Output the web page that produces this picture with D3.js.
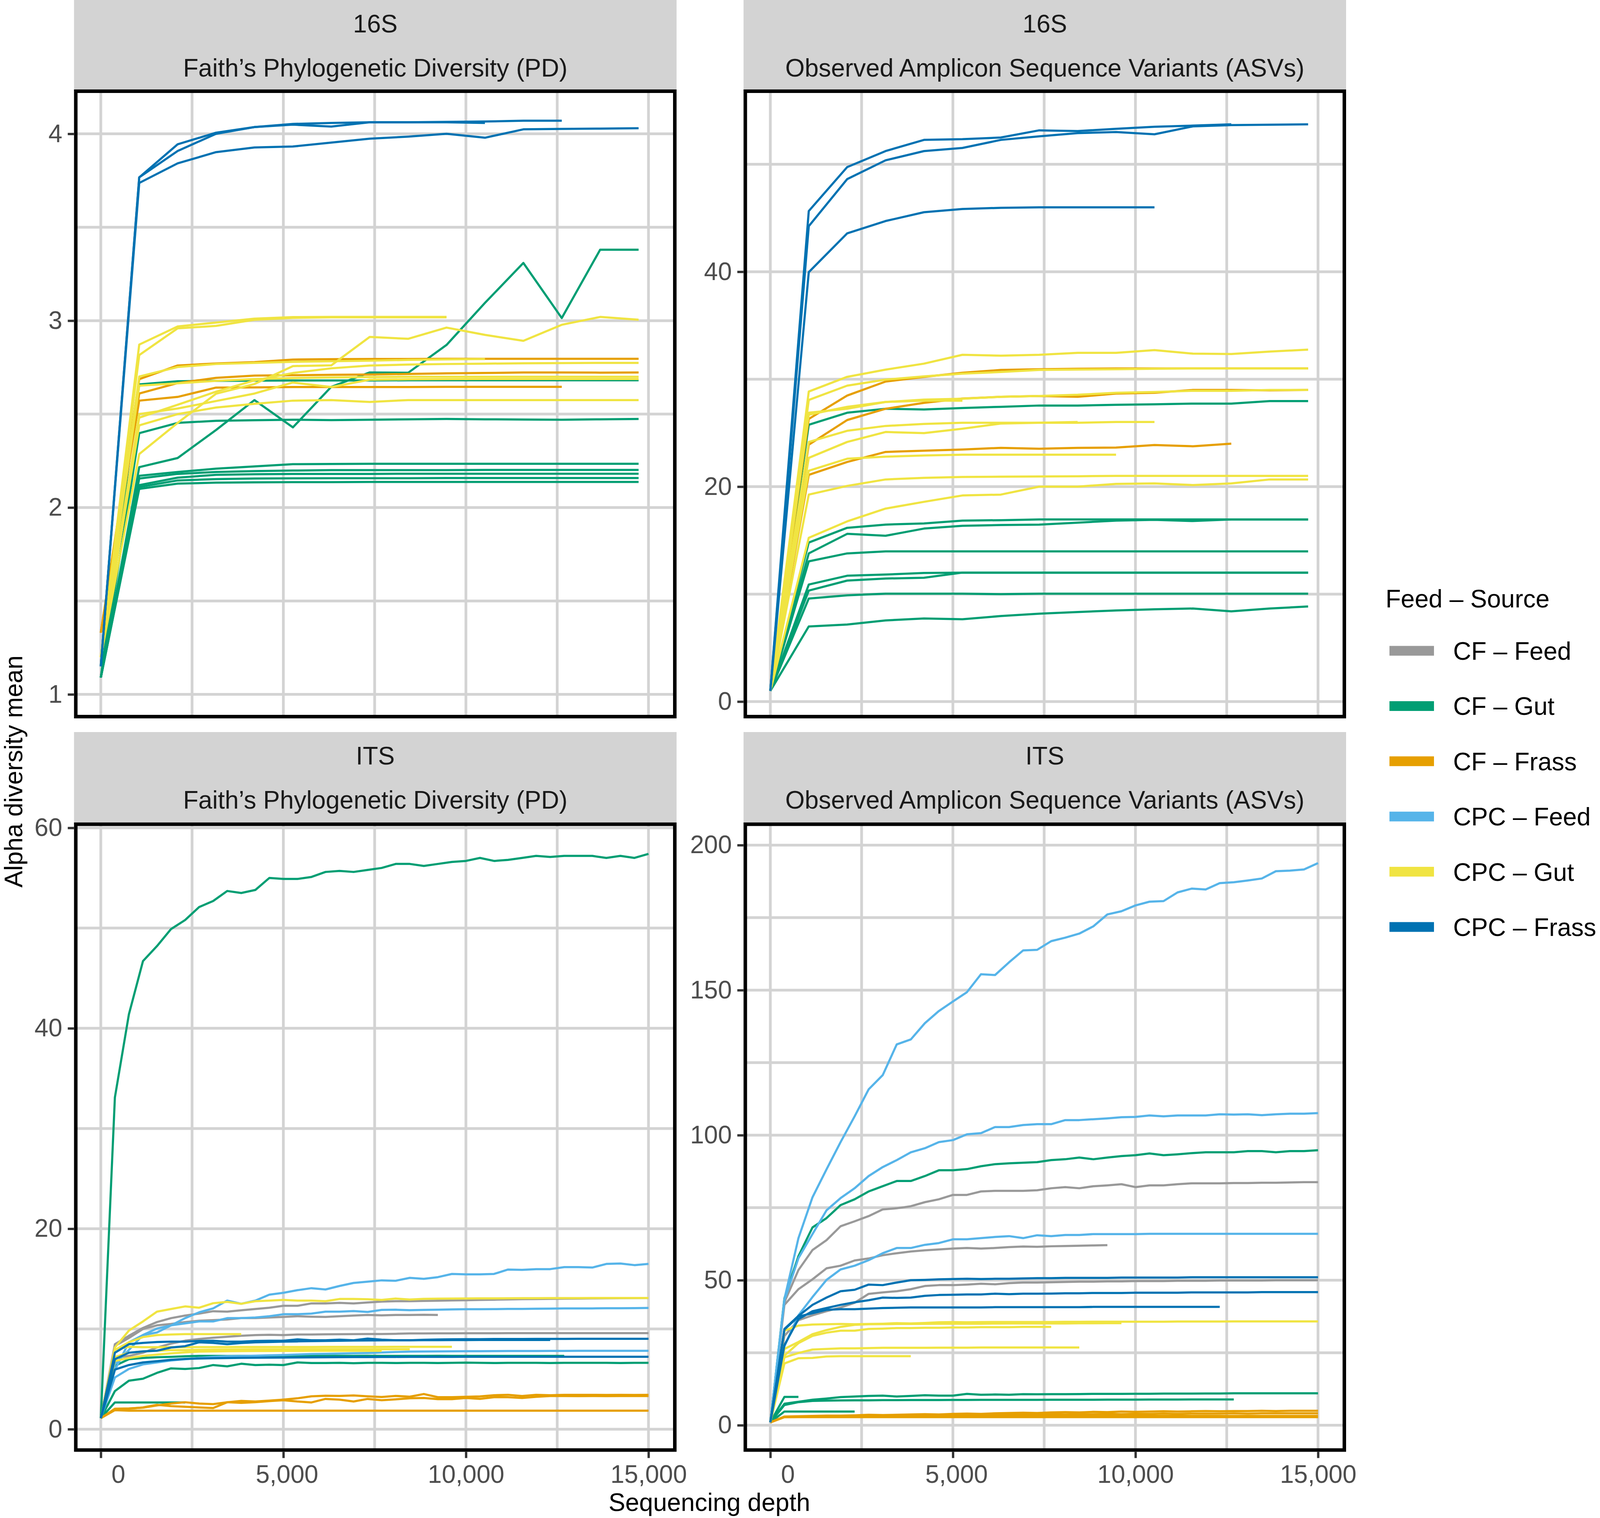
<!DOCTYPE html>
<html>
<head>
<meta charset="utf-8">
<script src="https://cdn.jsdelivr.net/npm/d3@7"></script>
<style>
  body { margin: 0; background: #ffffff; }
  text { font-family: "Liberation Sans", Arial, Helvetica, sans-serif; }
</style>
</head>
<body>
<svg id="chart" width="4127" height="3886" xmlns="http://www.w3.org/2000/svg"></svg>
<script>
// ---------------- DATA ----------------
const groups = ["CF – Feed", "CF – Gut", "CF – Frass", "CPC – Feed", "CPC – Gut", "CPC – Frass"];
const groupColors = ["#999999", "#009E73", "#E69F00", "#56B4E9", "#F0E442", "#0072B2"];

const legendTitle = "Feed – Source";
const xTitle = "Sequencing depth";
const yTitle = "Alpha diversity mean";

const depths16S = [1, 1053, 2105, 3157, 4209, 5261, 6313, 7365, 8417, 9469, 10521, 11573, 12625, 13677, 14729];
const depthsITS = [1, 386, 770, 1155, 1539, 1924, 2309, 2693, 3078, 3462,
                   3847, 4232, 4616, 5001, 5385, 5770, 6154, 6539, 6924, 7308,
                   7693, 8077, 8462, 8847, 9231, 9616, 10000, 10385, 10770, 11154,
                   11539, 11923, 12308, 12693, 13077, 13462, 13846, 14231, 14616, 15000];

const xTickValues = [0, 5000, 10000, 15000];
const xTickLabels = ["\u00a0\u00a0\u00a0\u00a0\u00a00", "\u00a05,000", "10,000", "15,000"];
const xMinorValues = [2500, 7500, 12500];
const xLimits = [-685, 15721];

const stripTop = ["16S", "16S", "ITS", "ITS"];
const stripBottom = ["Faith’s Phylogenetic Diversity (PD)", "Observed Amplicon Sequence Variants (ASVs)",
                     "Faith’s Phylogenetic Diversity (PD)", "Observed Amplicon Sequence Variants (ASVs)"];

const yTicksPD16S = [1, 2, 3, 4];        const yMinorPD16S = [1.5, 2.5, 3.5];     const yLimitsPD16S = [0.881, 4.228];
const yTicksASV16S = [0, 20, 40];        const yMinorASV16S = [10, 30, 50];       const yLimitsASV16S = [-1.40, 56.80];
const yTicksPDITS = [0, 20, 40, 60];     const yMinorPDITS = [10, 30, 50];        const yLimitsPDITS = [-2.08, 60.36];
const yTicksASVITS = [0, 50, 100, 150, 200]; const yMinorASVITS = [25, 75, 125, 175]; const yLimitsASVITS = [-8.55, 207.2];

// 16S Faith's PD
const seriesPD16S = [
  ["CF – Gut", [1.09, 2.216, 2.265, 2.415, 2.575, 2.429, 2.646, 2.723, 2.721, 2.87, 3.095, 3.309, 3.014, 3.38, 3.38]],
  ["CF – Gut", [1.09, 2.398, 2.453, 2.464, 2.467, 2.47, 2.468, 2.47, 2.472, 2.474, 2.472, 2.471, 2.47, 2.472, 2.474]],
  ["CF – Gut", [1.09, 2.659, 2.676, 2.678, 2.679, 2.68, 2.68, 2.68, 2.681, 2.681, 2.681, 2.681, 2.681, 2.681, 2.681]],
  ["CF – Gut", [1.09, 2.17, 2.19, 2.208, 2.22, 2.232, 2.233, 2.234, 2.234, 2.234, 2.234, 2.234, 2.234, 2.234, 2.234]],
  ["CF – Gut", [1.09, 2.155, 2.18, 2.19, 2.195, 2.198, 2.2, 2.2, 2.2, 2.2, 2.201, 2.201, 2.201, 2.201, 2.201]],
  ["CF – Gut", [1.09, 2.12, 2.16, 2.175, 2.178, 2.18, 2.18, 2.18, 2.181, 2.181, 2.181, 2.181, 2.181, 2.181, 2.181]],
  ["CF – Gut", [1.09, 2.11, 2.145, 2.152, 2.155, 2.156, 2.157, 2.157, 2.157, 2.158, 2.158, 2.158, 2.158, 2.158, 2.158]],
  ["CF – Gut", [1.09, 2.10, 2.128, 2.133, 2.135, 2.136, 2.136, 2.137, 2.137, 2.137, 2.137, 2.137, 2.137, 2.137, 2.137]],
  ["CF – Frass", [1.33, 2.687, 2.76, 2.771, 2.778, 2.792, 2.794, 2.795, 2.795, 2.796, 2.796, 2.796, 2.796, 2.796, 2.796]],
  ["CF – Frass", [1.33, 2.61, 2.666, 2.694, 2.706, 2.708, 2.71, 2.712, 2.715, 2.718, 2.72, 2.723, 2.723, 2.722, 2.723]],
  ["CF – Frass", [1.33, 2.572, 2.592, 2.642, 2.643, 2.645, 2.645, 2.645, 2.645, 2.646, 2.646, 2.646, 2.646]],
  ["CPC – Gut", [1.2, 2.872, 2.969, 2.99, 3.011, 3.019, 3.02, 3.02, 3.02, 3.02]],
  ["CPC – Gut", [1.2, 2.816, 2.959, 2.972, 3.005, 3.015, 3.018, 3.018, 3.018, 3.018]],
  ["CPC – Gut", [1.2, 2.701, 2.752, 2.768, 2.774, 2.78, 2.783, 2.786, 2.79, 2.793, 2.795]],
  ["CPC – Gut", [1.2, 2.481, 2.55, 2.62, 2.68, 2.72, 2.745, 2.76, 2.765, 2.768, 2.77, 2.772, 2.773, 2.774, 2.774]],
  ["CPC – Gut", [1.2, 2.652, 2.665, 2.678, 2.688, 2.693, 2.696, 2.698, 2.7, 2.7, 2.7, 2.7, 2.7, 2.7, 2.7]],
  ["CPC – Gut", [1.2, 2.44, 2.5, 2.535, 2.555, 2.572, 2.575, 2.565, 2.575, 2.575, 2.575, 2.575, 2.575, 2.575, 2.575]],
  ["CPC – Gut", [1.2, 2.5, 2.53, 2.57, 2.61, 2.669, 2.645, 2.684, 2.686, 2.687, 2.688, 2.688, 2.688, 2.688, 2.688]],
  ["CPC – Gut", [1.2, 2.286, 2.453, 2.609, 2.661, 2.757, 2.761, 2.913, 2.903, 2.963, 2.924, 2.892, 2.978, 3.02, 3.005]],
  ["CPC – Frass", [1.15, 3.767, 3.944, 4.006, 4.036, 4.053, 4.058, 4.062, 4.062, 4.064, 4.066, 4.07, 4.07]],
  ["CPC – Frass", [1.15, 3.767, 3.908, 4.0, 4.036, 4.049, 4.039, 4.062, 4.062, 4.062, 4.058]],
  ["CPC – Frass", [1.15, 3.737, 3.842, 3.902, 3.927, 3.932, 3.953, 3.974, 3.985, 4.0, 3.979, 4.024, 4.026, 4.028, 4.03]]
];

// 16S Observed ASVs
const seriesASV16S = [
  ["CF – Gut", [1, 25.76, 26.88, 27.25, 27.18, 27.32, 27.43, 27.55, 27.55, 27.62, 27.66, 27.73, 27.73, 27.96, 27.96]],
  ["CF – Gut", [1, 14.8, 16.17, 16.47, 16.58, 16.84, 16.88, 16.95, 16.95, 16.95, 16.95, 16.95, 16.95, 16.95, 16.95]],
  ["CF – Gut", [1, 13.79, 15.61, 15.43, 16.1, 16.36, 16.43, 16.47, 16.65, 16.84, 16.91, 16.8, 16.95, 16.95, 16.95]],
  ["CF – Gut", [1, 13.05, 13.79, 13.98, 13.98, 13.98, 13.98, 13.98, 13.98, 13.98, 13.98, 13.98, 13.98, 13.98, 13.98]],
  ["CF – Gut", [1, 10.89, 11.71, 11.82, 11.97, 12.0, 12.0, 12.0, 12.0, 12.0, 12.0, 12.0, 12.0, 12.0, 12.0]],
  ["CF – Gut", [1, 10.33, 11.26, 11.45, 11.52, 12.0, 12.0, 12.0, 12.0, 12.0, 12.0, 12.0, 12.0, 12.0, 12.0]],
  ["CF – Gut", [1, 9.59, 9.89, 10.04, 10.04, 10.04, 10.0, 10.04, 10.04, 10.04, 10.04, 10.04, 10.04, 10.04, 10.04]],
  ["CF – Gut", [1, 6.99, 7.17, 7.55, 7.73, 7.66, 7.96, 8.18, 8.33, 8.48, 8.59, 8.66, 8.4, 8.66, 8.85]],
  ["CF – Frass", [1, 26.3, 28.48, 29.78, 30.22, 30.6, 30.86, 30.93, 30.97, 31.0, 31.0, 31.0, 31.0, 31.0, 31.0]],
  ["CF – Frass", [1, 23.9, 26.2, 27.25, 27.8, 28.2, 28.36, 28.44, 28.36, 28.66, 28.74, 29.0, 29.0, 28.96, 29.0]],
  ["CF – Frass", [1, 21.1, 22.3, 23.23, 23.35, 23.46, 23.61, 23.53, 23.61, 23.64, 23.87, 23.76, 24.0]],
  ["CPC – Gut", [1, 28.85, 30.22, 30.89, 31.45, 32.27, 32.19, 32.27, 32.45, 32.45, 32.71, 32.38, 32.34, 32.57, 32.75]],
  ["CPC – Gut", [1, 28.07, 29.4, 29.96, 30.26, 30.52, 30.67, 30.86, 30.9, 30.93, 30.97, 31.0, 31.0, 31.0, 31.0]],
  ["CPC – Gut", [1, 26.7, 27.43, 27.88, 28.1, 28.18, 28.36, 28.44, 28.55, 28.74, 28.81, 28.92, 28.92, 29.0, 29.0]],
  ["CPC – Gut", [1, 26.88, 27.25, 27.88, 28.0, 28.0]],
  ["CPC – Gut", [1, 24.16, 25.2, 25.65, 25.84, 25.95, 25.95, 25.95, 25.95, 26.02, 26.02]],
  ["CPC – Gut", [1, 22.68, 24.16, 25.09, 24.98, 25.39, 25.87, 25.95, 26.02]],
  ["CPC – Gut", [1, 21.48, 22.6, 22.79, 22.9, 22.97, 22.97, 22.97, 22.97, 22.97]],
  ["CPC – Gut", [1, 19.26, 20.07, 20.67, 20.82, 20.9, 20.93, 20.95, 20.97, 21.0, 21.0, 21.0, 21.0, 21.0, 21.0]],
  ["CPC – Gut", [1, 15.24, 16.77, 17.96, 18.59, 19.18, 19.26, 20.0, 20.0, 20.26, 20.3, 20.15, 20.3, 20.67, 20.67]],
  ["CPC – Frass", [1, 45.65, 49.74, 51.23, 52.27, 52.34, 52.49, 53.16, 53.09, 53.3, 53.49, 53.6, 53.72]],
  ["CPC – Frass", [1, 44.24, 48.62, 50.37, 51.23, 51.52, 52.27, 52.6, 52.9, 53.0, 52.79, 53.53, 53.65, 53.68, 53.72]],
  ["CPC – Frass", [1, 39.96, 43.57, 44.72, 45.54, 45.84, 45.95, 45.99, 45.99, 45.99, 45.99]]
];

// ITS Faith's PD
const seriesPDITS = [
  ["CF – Feed", [1.1, 8.48, 9.32, 10.1, 10.69, 11.08, 11.34, 11.53, 11.77, 11.73,
                 11.86, 11.99, 12.12, 12.31, 12.31, 12.55, 12.55, 12.6, 12.55, 12.64,
                 12.73, 12.77, 12.77, 12.8, 12.82, 12.85, 12.87, 12.9, 12.92, 12.95,
                 12.97, 12.98, 13.0, 13.02, 13.03, 13.05, 13.06, 13.07, 13.08, 13.09]],
  ["CF – Feed", [1.1, 8.3, 9.1, 10.0, 10.36, 10.5, 10.69, 10.82, 10.88, 10.95,
                 11.08, 11.08, 11.14, 11.2, 11.27, 11.22, 11.2, 11.27, 11.34, 11.4,
                 11.36, 11.4, 11.4, 11.42, 11.4]],
  ["CF – Feed", [1.1, 7.1, 7.31, 7.63, 8.15, 8.54, 8.83, 9.0, 9.13, 9.22,
                 9.32, 9.39, 9.42, 9.39, 9.45, 9.45, 9.47, 9.48, 9.49, 9.5,
                 9.5, 9.52, 9.55, 9.55, 9.56, 9.56, 9.57, 9.57, 9.57, 9.58,
                 9.58, 9.58, 9.58, 9.58, 9.58, 9.58, 9.58, 9.58, 9.58, 9.58]],
  ["CF – Gut", [1.1, 33.1, 41.4, 46.7, 48.2, 49.9, 50.8, 52.1, 52.7, 53.7,
                53.5, 53.8, 55.0, 54.9, 54.9, 55.1, 55.6, 55.7, 55.6, 55.8,
                56.0, 56.4, 56.4, 56.2, 56.4, 56.6, 56.7, 57.0, 56.7, 56.8,
                57.0, 57.2, 57.1, 57.2, 57.2, 57.2, 57.0, 57.2, 57.0, 57.4]],
  ["CF – Gut", [1.1, 3.8, 4.84, 5.03, 5.62, 6.07, 6.01, 6.1, 6.4, 6.27,
                6.53, 6.4, 6.44, 6.4, 6.66, 6.6, 6.6, 6.62, 6.58, 6.62,
                6.62, 6.6, 6.62, 6.62, 6.6, 6.62, 6.64, 6.62, 6.6, 6.62,
                6.62, 6.62, 6.6, 6.62, 6.62, 6.62, 6.62, 6.6, 6.62, 6.62]],
  ["CF – Gut", [1.1, 6.33, 6.98, 7.11, 7.18, 7.22, 7.27, 7.31, 7.31, 7.3,
                7.31, 7.31, 7.32, 7.31, 7.31, 7.32, 7.31, 7.31, 7.31, 7.32,
                7.31, 7.31, 7.31, 7.31, 7.32, 7.31, 7.31, 7.31, 7.31, 7.31,
                7.31, 7.31, 7.31, 7.31]],
  ["CF – Gut", [1.1, 2.67, 2.67, 2.67, 2.67, 2.67, 2.67]],
  ["CF – Frass", [1.1, 1.9, 1.85, 1.85, 1.85, 1.85, 1.85, 1.85, 1.85, 1.85,
                  1.85, 1.85, 1.85, 1.85, 1.85, 1.85, 1.85, 1.85, 1.85, 1.85,
                  1.85, 1.85, 1.85, 1.85, 1.85, 1.85, 1.85, 1.85, 1.85, 1.85,
                  1.85, 1.85, 1.85, 1.85, 1.85, 1.85, 1.85, 1.85, 1.85, 1.85]],
  ["CF – Frass", [1.1, 2.04, 2.07, 2.15, 2.37, 2.56, 2.69, 2.56, 2.5, 2.69,
                  2.82, 2.76, 2.85, 2.95, 3.08, 3.28, 3.34, 3.32, 3.37, 3.28,
                  3.21, 3.32, 3.24, 3.51, 3.19, 3.19, 3.23, 3.27, 3.39, 3.43,
                  3.31, 3.43, 3.39, 3.43, 3.43, 3.43, 3.42, 3.43, 3.42, 3.43]],
  ["CF – Frass", [1.1, 1.98, 2.04, 2.17, 2.43, 2.3, 2.24, 2.17, 2.11, 2.69,
                  2.63, 2.69, 2.8, 2.89, 2.76, 2.67, 3.02, 2.95, 2.76, 3.02,
                  2.89, 2.98, 3.08, 3.11, 3.0, 3.0, 3.11, 3.03, 3.19, 3.19,
                  3.11, 3.23, 3.31, 3.31, 3.3, 3.31, 3.3, 3.31, 3.31, 3.31]],
  ["CPC – Feed", [1.1, 5.9, 8.67, 9.39, 9.65, 10.36, 11.08, 11.66, 12.05, 12.83,
                  12.51, 12.83, 13.42, 13.61, 13.87, 14.07, 13.94, 14.29, 14.59, 14.72,
                  14.85, 14.81, 15.1, 15.0, 15.17, 15.49, 15.45, 15.45, 15.49, 15.93,
                  15.9, 15.97, 15.97, 16.17, 16.17, 16.13, 16.49, 16.53, 16.37, 16.49]],
  ["CPC – Feed", [1.1, 6.5, 7.9, 9.4, 10.04, 10.36, 10.56, 10.75, 10.75, 11.08,
                  11.08, 11.14, 11.27, 11.47, 11.47, 11.53, 11.73, 11.73, 11.79, 11.7,
                  11.9, 11.92, 11.87, 11.9, 11.92, 11.95, 11.97, 11.97, 11.98, 12.0,
                  12.0, 12.02, 12.03, 12.05, 12.05, 12.05, 12.07, 12.07, 12.08, 12.1]],
  ["CPC – Feed", [1.1, 5.16, 6.01, 6.46, 6.66, 6.85, 6.98, 7.11, 7.22, 7.27,
                  7.3, 7.33, 7.37, 7.4, 7.45, 7.5, 7.52, 7.55, 7.58, 7.6,
                  7.65, 7.7, 7.74, 7.75, 7.76, 7.77, 7.78, 7.78, 7.79, 7.8,
                  7.8, 7.8, 7.81, 7.81, 7.82, 7.82, 7.82, 7.82, 7.82, 7.82]],
  ["CPC – Gut", [1.1, 8.15, 9.84, 10.75, 11.73, 11.99, 12.25, 12.12, 12.57, 12.7,
                 12.51, 12.77, 12.83, 12.9, 12.83, 12.83, 12.77, 12.99, 12.99, 12.96,
                 12.9, 13.03, 12.94, 13.0, 13.02, 13.03, 13.04, 13.05, 13.05, 13.06,
                 13.07, 13.07, 13.08, 13.08, 13.08, 13.09, 13.09, 13.09, 13.09, 13.09]],
  ["CPC – Gut", [1.1, 7.9, 8.67, 9.19, 9.39, 9.45, 9.49, 9.49, 9.49, 9.49, 9.49]],
  ["CPC – Gut", [1.1, 7.95, 8.22, 8.18, 8.18, 8.18, 8.18, 8.19, 8.19, 8.19,
                 8.2, 8.2, 8.2, 8.2, 8.2, 8.2, 8.21, 8.21, 8.21, 8.21,
                 8.21, 8.22, 8.22, 8.22, 8.22, 8.22]],
  ["CPC – Gut", [1.1, 7.2, 7.63, 7.76, 7.83, 7.89, 7.89, 7.92, 7.94, 7.95,
                 7.96, 7.97, 7.97, 7.97, 7.98, 7.98, 7.98, 7.98, 7.98, 7.98,
                 7.98, 7.98, 7.98]],
  ["CPC – Gut", [1.1, 6.8, 7.11, 7.31, 7.44, 7.57, 7.66, 7.74, 7.76, 7.78,
                 7.79, 7.8, 7.8, 7.81, 7.81, 7.82, 7.82, 7.82, 7.82, 7.82, 7.82]],
  ["CPC – Frass", [1.1, 7.63, 8.48, 8.61, 8.7, 8.74, 8.74, 8.8, 8.82, 8.74,
                   8.74, 8.8, 8.82, 8.82, 8.96, 8.87, 8.87, 8.93, 8.87, 9.04,
                   8.93, 8.87, 8.87, 8.92, 8.95, 8.97, 8.98, 8.98, 9.0, 9.0,
                   9.0, 9.01, 9.01, 9.01, 9.02, 9.02, 9.02, 9.02, 9.02, 9.02]],
  ["CPC – Frass", [1.1, 6.98, 7.63, 7.76, 7.83, 8.15, 8.28, 8.67, 8.61, 8.48,
                   8.6, 8.67, 8.7, 8.74, 8.76, 8.78, 8.8, 8.82, 8.84, 8.85,
                   8.86, 8.87, 8.87, 8.88, 8.88, 8.89, 8.89, 8.9, 8.9, 8.9,
                   8.9, 8.9, 8.9]],
  ["CPC – Frass", [1.1, 5.94, 6.4, 6.66, 6.79, 6.92, 7.01, 7.05, 7.08, 7.1,
                   7.12, 7.13, 7.14, 7.15, 7.16, 7.17, 7.18, 7.19, 7.2, 7.2,
                   7.21, 7.21, 7.22, 7.22, 7.22, 7.22, 7.23, 7.23, 7.23, 7.23,
                   7.23, 7.23, 7.23, 7.23, 7.23, 7.23, 7.23, 7.23, 7.23, 7.23]]
];

// ITS Observed ASVs
const seriesASVITS = [
  ["CF – Feed", [1, 42.4, 53.5, 60.4, 63.8, 68.6, 70.3, 72.1, 74.4, 74.8,
                 75.5, 76.9, 77.9, 79.4, 79.4, 80.6, 80.8, 80.8, 80.8, 81.0,
                 81.7, 82.1, 81.7, 82.4, 82.7, 83.1, 82.1, 82.7, 82.7, 83.1,
                 83.4, 83.4, 83.4, 83.5, 83.5, 83.6, 83.6, 83.7, 83.8, 83.8]],
  ["CF – Feed", [1, 41.5, 46.9, 50.3, 54.1, 55.0, 56.8, 57.5, 58.6, 59.3,
                 59.9, 60.3, 60.6, 60.9, 61.1, 60.9, 61.1, 61.4, 61.6, 61.5,
                 61.7, 61.8, 61.9, 62.0, 62.1]],
  ["CF – Feed", [1, 30.8, 36.2, 37.9, 39.3, 40.6, 42.2, 45.3, 45.8, 46.2,
                 46.9, 48.0, 48.3, 48.3, 48.5, 48.8, 48.6, 49.0, 49.2, 49.2,
                 49.3, 49.4, 49.5, 49.5, 49.6, 49.6, 49.7, 49.7, 49.7, 49.8,
                 49.8, 49.8, 49.9, 49.9, 49.9, 49.9, 50.0, 50.0, 50.0, 50.0]],
  ["CF – Gut", [1, 43.8, 58.3, 68.2, 71.4, 75.9, 77.9, 80.6, 82.4, 84.2,
                84.2, 85.9, 87.9, 87.9, 88.3, 89.3, 90.0, 90.3, 90.5, 90.7,
                91.4, 91.7, 92.3, 91.7, 92.3, 92.8, 93.1, 93.7, 93.1, 93.4,
                93.8, 94.1, 94.1, 94.1, 94.5, 94.5, 94.1, 94.5, 94.5, 94.8]],
  ["CF – Gut", [1, 7.4, 8.1, 8.8, 9.2, 9.7, 9.9, 10.1, 10.2, 9.9,
                10.1, 10.34, 10.2, 10.2, 10.8, 10.5, 10.6, 10.5, 10.7, 10.66,
                10.7, 10.7, 10.75, 10.8, 10.8, 10.8, 10.85, 10.85, 10.9, 10.9,
                10.9, 10.95, 10.95, 11.0, 11.0, 11.0, 11.0, 11.0, 11.0, 11.0]],
  ["CF – Gut", [1, 6.98, 7.96, 8.4, 8.5, 8.55, 8.6, 8.6, 8.65, 8.65,
                8.7, 8.7, 8.7, 8.72, 8.72, 8.74, 8.74, 8.75, 8.76, 8.77,
                8.78, 8.79, 8.8, 8.8, 8.82, 8.83, 8.84, 8.85, 8.86, 8.87,
                8.88, 8.88, 8.89, 8.9]],
  ["CF – Gut", [1, 9.76, 9.76]],
  ["CF – Gut", [1, 4.73, 4.73, 4.73, 4.73, 4.73, 4.73]],
  ["CF – Frass", [1, 3.0, 3.1, 3.2, 3.3, 3.3, 3.4, 3.6, 3.5, 3.6,
                  3.7, 3.8, 3.7, 3.9, 4.0, 3.9, 4.1, 4.2, 4.3, 4.2,
                  4.4, 4.5, 4.4, 4.6, 4.5, 4.7, 4.6, 4.7, 4.8, 4.7,
                  4.8, 4.9, 4.8, 4.9, 4.9, 5.0, 4.9, 5.0, 5.0, 5.0]],
  ["CF – Frass", [1, 2.9, 3.0, 3.0, 3.1, 3.2, 3.2, 3.3, 3.3, 3.4,
                  3.3, 3.4, 3.5, 3.5, 3.6, 3.5, 3.6, 3.7, 3.6, 3.7,
                  3.8, 3.7, 3.8, 3.8, 3.9, 3.8, 3.9, 3.9, 4.0, 3.9,
                  4.0, 4.0, 4.0, 4.1, 4.0, 4.1, 4.1, 4.1, 4.1, 4.1]],
  ["CF – Frass", [1, 2.8, 2.85, 2.9, 2.9, 2.95, 3.0, 2.95, 3.0, 3.0,
                  3.05, 3.0, 3.05, 3.1, 3.05, 3.1, 3.1, 3.1, 3.15, 3.1,
                  3.15, 3.15, 3.1, 3.15, 3.2, 3.15, 3.2, 3.2, 3.2, 3.2,
                  3.2, 3.25, 3.2, 3.2, 3.25, 3.2, 3.2, 3.2, 3.2, 3.2]],
  ["CF – Frass", [1, 2.8, 2.8, 2.8, 2.8, 2.8, 2.8, 2.8, 2.8, 2.8,
                  2.8, 2.8, 2.8, 2.8, 2.8, 2.8, 2.8, 2.8, 2.8, 2.8,
                  2.8, 2.8, 2.8, 2.8, 2.8, 2.8, 2.8, 2.8, 2.8, 2.8,
                  2.8, 2.8, 2.8, 2.8, 2.8, 2.8, 2.8, 2.8, 2.8, 2.8]],
  ["CPC – Feed", [1, 43.5, 64.5, 78.6, 88.2, 97.6, 106.5, 115.8, 120.7, 131.3,
                  133.0, 138.6, 142.8, 146.1, 149.3, 155.5, 155.2, 159.6, 163.7, 163.9,
                  166.9, 168.1, 169.5, 172.0, 176.1, 177.2, 179.2, 180.5, 180.7, 183.7,
                  185.0, 184.7, 186.9, 187.2, 187.8, 188.5, 191.0, 191.2, 191.6, 193.8]],
  ["CPC – Feed", [1, 43.1, 57.6, 65.9, 74.1, 78.3, 81.7, 85.9, 89.0, 91.4,
                  94.1, 95.5, 97.6, 98.3, 100.3, 100.7, 102.8, 102.8, 103.5, 103.8,
                  103.8, 105.2, 105.2, 105.5, 105.8, 106.2, 106.3, 106.8, 106.5, 106.8,
                  106.8, 106.8, 107.2, 107.1, 107.2, 106.9, 107.2, 107.4, 107.4, 107.6]],
  ["CPC – Feed", [1, 27.2, 37.9, 44.2, 50.1, 53.7, 55.0, 56.9, 59.3, 61.1,
                  61.1, 62.2, 62.8, 64.1, 64.1, 64.5, 64.9, 65.2, 64.5, 65.5,
                  65.2, 65.6, 65.6, 65.9, 65.9, 65.9, 65.9, 66.0, 66.0, 66.0,
                  66.0, 66.0, 66.0, 66.0, 66.0, 66.0, 66.0, 66.0, 66.0, 66.0]],
  ["CPC – Gut", [1, 32.6, 34.35, 34.7, 34.8, 34.9, 34.8, 34.9, 35.0, 35.2,
                 35.1, 35.25, 35.5, 35.55, 35.5, 35.55, 35.6, 35.6, 35.6, 35.6,
                 35.6, 35.65, 35.65, 35.7, 35.7, 35.7, 35.7, 35.7, 35.7, 35.75,
                 35.75, 35.75, 35.75, 35.8, 35.8, 35.8, 35.8, 35.8, 35.8, 35.8]],
  ["CPC – Gut", [1, 26.3, 28.7, 31.4, 32.8, 33.9, 34.6, 34.8, 34.85, 34.9,
                 34.9, 34.95, 35.0, 35.0, 35.0, 35.0, 35.05, 35.1, 35.1, 35.1,
                 35.1, 35.1, 35.15, 35.15, 35.2, 35.2]],
  ["CPC – Gut", [1, 24.0, 28.3, 30.8, 31.9, 32.6, 32.6, 33.2, 33.3, 33.5,
                 33.5, 33.6, 33.6, 33.7, 33.7, 33.8, 33.8, 33.8, 33.9, 33.9, 33.9]],
  ["CPC – Gut", [1, 23.4, 24.9, 26.1, 26.3, 26.5, 26.5, 26.6, 26.7, 26.7,
                 26.7, 26.7, 26.75, 26.75, 26.75, 26.8, 26.8, 26.8, 26.8, 26.8,
                 26.8, 26.8, 26.8]],
  ["CPC – Gut", [1, 21.3, 23.1, 23.2, 23.7, 23.8, 23.8, 23.8, 23.8, 23.8, 23.8]],
  ["CPC – Frass", [1, 33.2, 37.7, 41.5, 44.0, 46.2, 46.7, 48.5, 48.3, 49.2,
                   50.0, 50.1, 50.3, 50.4, 50.5, 50.4, 50.5, 50.5, 50.6, 50.7,
                   50.7, 50.8, 50.8, 50.8, 50.8, 50.9, 50.9, 50.9, 50.9, 50.9,
                   51.0, 51.0, 51.0, 51.0, 51.0, 51.0, 51.0, 51.0, 51.0, 51.0]],
  ["CPC – Frass", [1, 27.6, 36.6, 39.3, 40.4, 41.5, 42.4, 43.1, 44.0, 43.9,
                   44.0, 44.6, 44.9, 45.0, 45.1, 45.1, 45.35, 45.2, 45.35, 45.35,
                   45.4, 45.5, 45.5, 45.6, 45.6, 45.6, 45.7, 45.7, 45.7, 45.7,
                   45.8, 45.8, 45.8, 45.8, 45.8, 45.9, 45.9, 45.9, 45.9, 45.9]],
  ["CPC – Frass", [1, 33.0, 37.5, 38.6, 39.8, 40.0, 40.0, 40.2, 40.4, 40.5,
                   40.6, 40.6, 40.6, 40.6, 40.6, 40.6, 40.7, 40.7, 40.7, 40.7,
                   40.7, 40.7, 40.7, 40.8, 40.8, 40.8, 40.8, 40.8, 40.8, 40.8,
                   40.8, 40.8, 40.8]]
];

// ---------------- DRAWING ----------------
const color = d3.scaleOrdinal().domain(groups).range(groupColors);
const svg = d3.select("#chart");
svg.append("rect").attr("width", 4127).attr("height", 3886).attr("fill", "#ffffff");

const FONT = 64;
const colX = [194, 1908];
const panelW = 1533.5;
const rowY = [[233.5, 1834.5], [2110, 3712]];
const stripTopY = [0, 1874];

const panels = [
  { row: 0, col: 0, depths: depths16S, series: seriesPD16S, yLimits: yLimitsPD16S, yTicks: yTicksPD16S, yMinor: yMinorPD16S },
  { row: 0, col: 1, depths: depths16S, series: seriesASV16S, yLimits: yLimitsASV16S, yTicks: yTicksASV16S, yMinor: yMinorASV16S },
  { row: 1, col: 0, depths: depthsITS, series: seriesPDITS, yLimits: yLimitsPDITS, yTicks: yTicksPDITS, yMinor: yMinorPDITS },
  { row: 1, col: 1, depths: depthsITS, series: seriesASVITS, yLimits: yLimitsASVITS, yTicks: yTicksASVITS, yMinor: yMinorASVITS }
];

panels.forEach((p, pi) => {
  const x0 = colX[p.col], x1 = x0 + panelW;
  const [y0, y1] = rowY[p.row];
  const x = d3.scaleLinear().domain(xLimits).range([x0, x1]);
  const y = d3.scaleLinear().domain(p.yLimits).range([y1, y0]);
  const g = svg.append("g");

  // grid: minor then major
  const gridColor = "#d3d3d3";
  g.selectAll(".gxm").data(xMinorValues.concat(xTickValues)).join("line")
    .attr("x1", d => x(d)).attr("x2", d => x(d)).attr("y1", y0).attr("y2", y1)
    .attr("stroke", gridColor).attr("stroke-width", 7);
  g.selectAll(".gym").data(p.yMinor.concat(p.yTicks)).join("line")
    .attr("x1", x0).attr("x2", x1).attr("y1", d => y(d)).attr("y2", d => y(d))
    .attr("stroke", gridColor).attr("stroke-width", 7);

  // data lines, drawn in legend order
  const line = d3.line().x((d, i) => x(p.depths[i])).y(d => y(d));
  const ordered = p.series.slice().sort((a, b) => groups.indexOf(a[0]) - groups.indexOf(b[0]));
  g.selectAll(".series").data(ordered).join("path")
    .attr("d", d => line(d[1]))
    .attr("fill", "none")
    .attr("stroke", d => color(d[0]))
    .attr("stroke-width", 5.5)
    .attr("stroke-linejoin", "round")
    .attr("stroke-linecap", "butt");

  // strip
  svg.append("rect")
    .attr("x", x0 - 4.5).attr("y", stripTopY[p.row])
    .attr("width", panelW + 9).attr("height", y0 - stripTopY[p.row])
    .attr("fill", "#d3d3d3");
  svg.append("text").attr("x", (x0 + x1) / 2).attr("y", stripTopY[p.row] + 83)
    .attr("text-anchor", "middle").attr("font-size", FONT).attr("fill", "#1a1a1a").text(stripTop[pi]);
  svg.append("text").attr("x", (x0 + x1) / 2).attr("y", stripTopY[p.row] + 196)
    .attr("text-anchor", "middle").attr("font-size", FONT).attr("fill", "#1a1a1a").text(stripBottom[pi]);

  // panel border
  svg.append("rect").attr("x", x0).attr("y", y0).attr("width", panelW).attr("height", y1 - y0)
    .attr("fill", "none").attr("stroke", "#000000").attr("stroke-width", 9);

  // y axis
  const ay = svg.append("g").attr("transform", `translate(${x0 - 4.5},0)`)
    .call(d3.axisLeft(y).tickValues(p.yTicks).tickSize(16).tickPadding(14).tickFormat(d3.format(",")));
  ay.select(".domain").remove();
  ay.selectAll(".tick line").attr("stroke", "#333333").attr("stroke-width", 6);
  ay.selectAll(".tick text").attr("font-size", FONT).attr("fill", "#4d4d4d")
    .attr("font-family", "'Liberation Sans', Arial, Helvetica, sans-serif");

  // x axis on bottom row
  if (p.row === 1) {
    const ax = svg.append("g").attr("transform", `translate(0,${y1 + 4.5})`)
      .call(d3.axisBottom(x).tickValues(xTickValues).tickSize(16).tickPadding(18)
        .tickFormat((d, i) => xTickLabels[i]));
    ax.select(".domain").remove();
    ax.selectAll(".tick line").attr("stroke", "#333333").attr("stroke-width", 6);
    ax.selectAll(".tick text").attr("font-size", FONT).attr("fill", "#4d4d4d")
      .attr("font-family", "'Liberation Sans', Arial, Helvetica, sans-serif");
  }
});

// axis titles
svg.append("text").attr("x", 1816).attr("y", 3868).attr("text-anchor", "middle")
  .attr("font-size", FONT).attr("fill", "#000000").text(xTitle);
svg.append("text").attr("transform", "translate(57,1975) rotate(-90)").attr("text-anchor", "middle")
  .attr("font-size", FONT).attr("fill", "#000000").text(yTitle);

// legend
const lg = svg.append("g");
lg.append("text").attr("x", 3547).attr("y", 1555).attr("font-size", FONT).attr("fill", "#000000").text(legendTitle);
const keyY = d3.scaleLinear().domain([0, groups.length - 1]).range([1666, 2373]);
groups.forEach((gname, i) => {
  lg.append("line").attr("x1", 3557).attr("x2", 3671).attr("y1", keyY(i)).attr("y2", keyY(i))
    .attr("stroke", color(gname)).attr("stroke-width", 25);
  lg.append("text").attr("x", 3720).attr("y", keyY(i) + 23).attr("font-size", FONT)
    .attr("fill", "#000000").text(gname);
});
</script>
</body>
</html>
